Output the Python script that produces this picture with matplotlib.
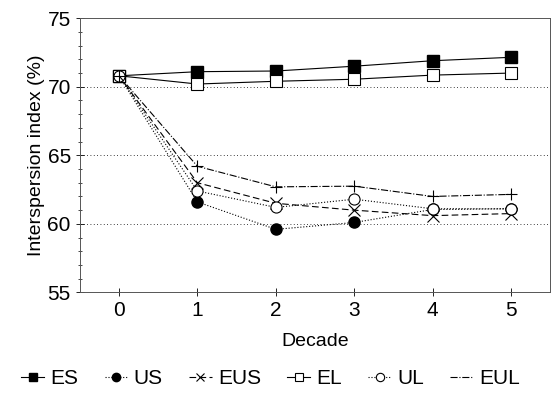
import matplotlib.pyplot as plt
from matplotlib.ticker import MultipleLocator
from matplotlib.lines import Line2D

plt.rcParams['font.family'] = ['Liberation Sans', 'DejaVu Sans']

# 各十年的數值
decades = [0, 1, 2, 3, 4, 5]
es = [70.8, 71.1, 71.15, 71.5, 71.9, 72.15]
us = [70.8, 61.6, 59.6, 60.1, 61.05, 61.1]
eus = [70.8, 63.0, 61.5, 61.0, 60.6, 60.75]
el = [70.8, 70.2, 70.4, 70.55, 70.85, 71.0]
ul = [70.8, 62.4, 61.2, 61.8, 61.1, 61.1]
eul = [70.8, 64.2, 62.7, 62.75, 62.0, 62.15]

fig = plt.figure(figsize=(5.58, 4.05), dpi=100)
ax = fig.add_axes([0.143, 0.278, 0.843, 0.677])

lw = 0.8
h1, = ax.plot(decades, es, color='black', lw=lw, ls='-', marker='s', ms=8, label='ES')
h2, = ax.plot(decades, us, color='black', lw=lw, ls=':', marker='o', ms=8, label='US')
h3, = ax.plot(decades, eus, color='black', lw=lw, ls=(0, (6, 3)), marker='x', ms=8,
              mew=0.8, label='EUS')
h4, = ax.plot(decades, el, color='black', lw=lw, ls='-', marker='s', ms=8,
              mfc='white', mew=0.8, label='EL')
h5, = ax.plot(decades, ul, color='black', lw=lw, ls=':', marker='o', ms=8,
              mfc='white', mew=0.8, label='UL')
ax.plot(decades, eul, color='black', lw=lw, ls='-.', marker='+', ms=8,
        mew=0.8)
h6 = Line2D([], [], color='black', lw=lw, ls='-.')

ax.set_xlim(-0.5, 5.5)
ax.set_ylim(55, 75)
ax.set_xticks(decades)
ax.set_yticks([55, 60, 65, 70, 75])
ax.yaxis.set_minor_locator(MultipleLocator(1))
ax.tick_params(axis='both', labelsize=15, direction='inout', length=6, width=0.6)
ax.tick_params(axis='y', which='minor', direction='inout', length=3, width=0.5)
for y in [60, 65, 70]:
    ax.axhline(y, color='black', lw=0.6, ls=(0, (1, 3)), zorder=0)
for s in ax.spines.values():
    s.set_linewidth(0.7)
    s.set_color('#555555')

ax.set_xlabel('Decade', fontsize=14, labelpad=9)
ax.set_ylabel('Interspersion index (%)', fontsize=14, labelpad=2)

fig.legend([h1, h2, h3, h4, h5, h6], ['ES', 'US', 'EUS', 'EL', 'UL', 'EUL'],
           loc='lower center', ncol=6, frameon=False, fontsize=15,
           bbox_to_anchor=(0.485, -0.005), handlelength=1.1, handletextpad=0.3,
           columnspacing=1.25, markerscale=0.75)

fig.savefig('out.png', dpi=100)
